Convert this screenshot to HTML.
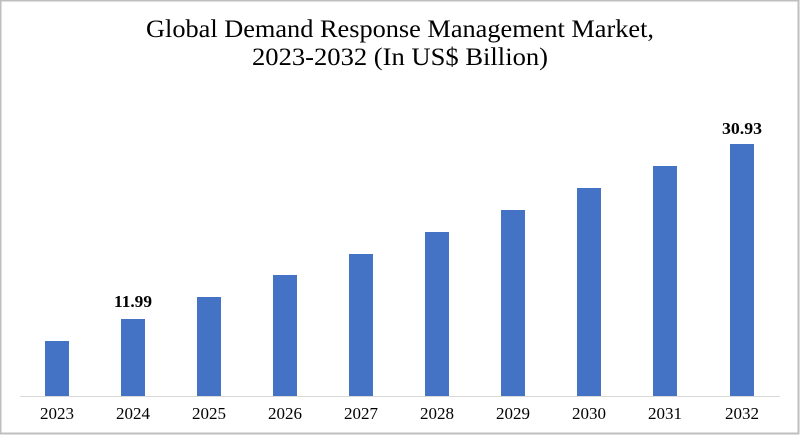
<!DOCTYPE html><html><head><style>body{margin:0}svg{display:block}</style></head><body>
<svg width="800" height="435" xmlns="http://www.w3.org/2000/svg" font-family="Liberation Serif, serif">
<rect x="0" y="0" width="800" height="435" fill="#fff"/>
<rect x="0.5" y="0.5" width="798" height="433" fill="none" stroke="#bfbfbf" stroke-width="2"/>
<text x="400" y="37" text-anchor="middle" font-size="25" fill="#000" textLength="508" lengthAdjust="spacingAndGlyphs">Global Demand Response Management Market,</text>
<text x="400" y="65" text-anchor="middle" font-size="25" fill="#000" textLength="296" lengthAdjust="spacingAndGlyphs">2023-2032 (In US$ Billion)</text>
<line x1="20" y1="396.5" x2="780" y2="396.5" stroke="#d9d9d9" stroke-width="1"/>
<g fill="#4472c4">
<rect x="45" y="341" width="24" height="55"/>
<rect x="121" y="319" width="24" height="77"/>
<rect x="197" y="297" width="24" height="99"/>
<rect x="273" y="275" width="24" height="121"/>
<rect x="349" y="254" width="24" height="142"/>
<rect x="425" y="232" width="24" height="164"/>
<rect x="501" y="210" width="24" height="186"/>
<rect x="577" y="188" width="24" height="208"/>
<rect x="653" y="166" width="24" height="230"/>
<rect x="730" y="144" width="24" height="252"/>
</g>
<g font-size="17" text-anchor="middle" fill="#000" lengthAdjust="spacingAndGlyphs">
<text x="57" y="419" textLength="34">2023</text><text x="133" y="419" textLength="34">2024</text><text x="209" y="419" textLength="34">2025</text><text x="285" y="419" textLength="34">2026</text><text x="361" y="419" textLength="34">2027</text><text x="437" y="419" textLength="34">2028</text><text x="513" y="419" textLength="34">2029</text><text x="589" y="419" textLength="34">2030</text><text x="665" y="419" textLength="34">2031</text><text x="742" y="419" textLength="34">2032</text>
</g>
<g font-size="17" font-weight="bold" text-anchor="middle" fill="#000">
<text x="133" y="307" textLength="38" lengthAdjust="spacingAndGlyphs">11.99</text><text x="742" y="134" textLength="40" lengthAdjust="spacingAndGlyphs">30.93</text>
</g>
</svg></body></html>
